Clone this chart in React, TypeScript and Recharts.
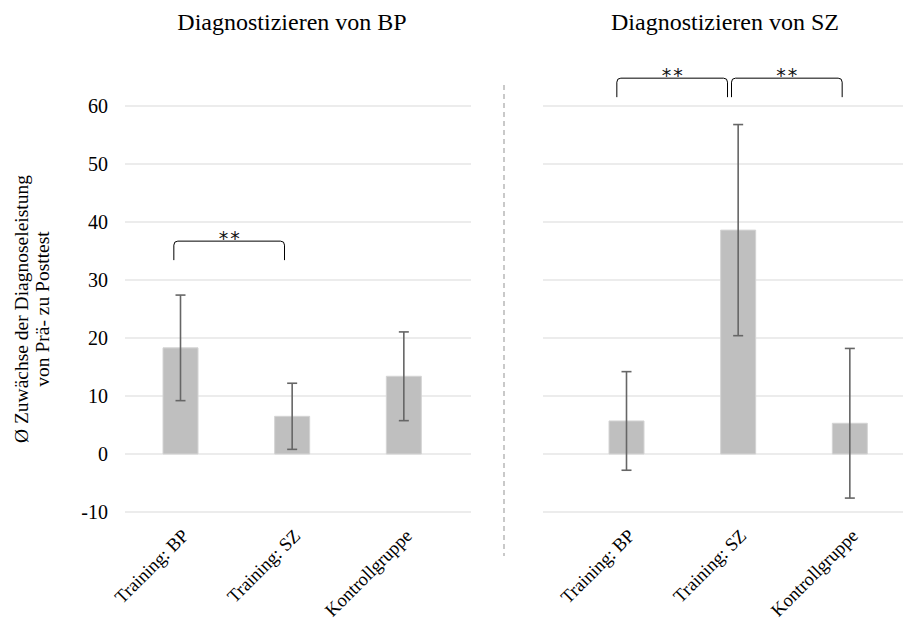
import React from 'react';
import { BarChart, Bar, XAxis, YAxis, CartesianGrid, ErrorBar, ReferenceLine } from 'recharts';

const groups = ['Training: BP', 'Training: SZ', 'Kontrollgruppe'];
const bpMeans = [18.3, 6.5, 13.4];
const bpErrors = [9.1, 5.7, 7.65];
const szMeans = [5.7, 38.6, 5.3];
const szErrors = [8.5, 18.2, 12.9];
const yTicks = [-10, 0, 10, 20, 30, 40, 50, 60];
const panelTitles = ['Diagnostizieren von BP', 'Diagnostizieren von SZ'];
const yLabelLines = ['Ø Zuwächse der Diagnoseleistung', 'von Prä- zu Posttest'];

const bpData = groups.map((g, i) => ({ group: g, mean: bpMeans[i], err: bpErrors[i] }));
const szData = groups.map((g, i) => ({ group: g, mean: szMeans[i], err: szErrors[i] }));

const FONT = '"Liberation Serif", "Times New Roman", serif';

const RotTick = (props: any) => {
  const { x, y, payload } = props;
  const ax = x + 9;
  const ay = y + 17;
  return (
    <text x={ax} y={ay} textAnchor="end" fontFamily={FONT} fontSize={18.5} fill="#000"
      transform={`rotate(-45, ${ax}, ${ay})`}>
      {payload.value}
    </text>
  );
};

const makeBracket = (dA: number, dB: number) => (props: any) => {
  const { x1, y1, x2 } = props;
  const a = x1 + dA;
  const b = x2 + dB;
  const top = y1;
  const leg = 19;
  const r = 4;
  const d = `M${a},${top + leg} L${a},${top + r} Q${a},${top} ${a + r},${top} L${b - r},${top} Q${b},${top} ${b},${top + r} L${b},${top + leg}`;
  return (
    <g>
      <path d={d} fill="none" stroke="#000" strokeWidth={1} />
      <text x={(a + b) / 2 + 1} y={top + 4} textAnchor="middle" fontFamily='"DejaVu Sans", sans-serif'
        fontSize={19} letterSpacing={2} fill="#111">**</text>
    </g>
  );
};

export default function App() {
  return (
    <div style={{ position: 'absolute', left: 0, top: 0, width: 903, height: 624, background: '#fff', fontFamily: FONT }}>
      <div style={{ position: 'absolute', left: 0, top: 0 }}>
        <BarChart width={480} height={624} data={bpData} margin={{ top: 106, right: 9, left: 0, bottom: 0 }}>
          <CartesianGrid vertical={false} stroke="#d9d9d9" strokeWidth={1.2} />
          <XAxis dataKey="group" axisLine={false} tickLine={false} height={112} interval={0}
            padding={{ left: 0, right: 11 }} tick={<RotTick />} />
          <YAxis width={125} domain={[-10, 60]} ticks={yTicks} axisLine={false} tickLine={false}
            tickMargin={11} tick={{ fontSize: 20, fill: '#000', fontFamily: FONT }} />
          <Bar dataKey="mean" fill="#bfbfbf" stroke="#d4d4d4" strokeWidth={1} barSize={35} isAnimationActive={false}>
            <ErrorBar dataKey="err" width={5} stroke="#666" strokeWidth={1.6} />
          </Bar>
          <ReferenceLine segment={[{ x: groups[0], y: 36.7 }, { x: groups[1], y: 36.7 }]} ifOverflow="visible"
            shape={makeBracket(-7, -8)} />
        </BarChart>
      </div>
      <div style={{ position: 'absolute', left: 480, top: 0 }}>
        <BarChart width={423} height={624} data={szData} margin={{ top: 106, right: 0, left: 63, bottom: 0 }}>
          <CartesianGrid vertical={false} stroke="#d9d9d9" strokeWidth={1.2} />
          <XAxis dataKey="group" axisLine={false} tickLine={false} height={112} interval={0}
            padding={{ left: 28, right: -3 }} tick={<RotTick />} />
          <YAxis hide domain={[-10, 60]} ticks={yTicks} />
          <Bar dataKey="mean" fill="#bfbfbf" stroke="#d4d4d4" strokeWidth={1} barSize={35} isAnimationActive={false}>
            <ErrorBar dataKey="err" width={5} stroke="#666" strokeWidth={1.6} />
          </Bar>
          <ReferenceLine segment={[{ x: groups[0], y: 64.8 }, { x: groups[1], y: 64.8 }]} ifOverflow="visible"
            shape={makeBracket(-10, -11)} />
          <ReferenceLine segment={[{ x: groups[1], y: 64.8 }, { x: groups[2], y: 64.8 }]} ifOverflow="visible"
            shape={makeBracket(-7, -8)} />
        </BarChart>
      </div>
      <svg width={903} height={624} style={{ position: 'absolute', left: 0, top: 0, pointerEvents: 'none' }}>
        <text x={292} y={30} textAnchor="middle" fontFamily={FONT} fontSize={24} fill="#000">{panelTitles[0]}</text>
        <text x={725} y={30} textAnchor="middle" fontFamily={FONT} fontSize={24} fill="#000">{panelTitles[1]}</text>
        <text x={28} y={309} textAnchor="middle" fontFamily={FONT} fontSize={19.5} fill="#000"
          transform="rotate(-90, 28, 309)">{yLabelLines[0]}</text>
        <text x={49} y={309} textAnchor="middle" fontFamily={FONT} fontSize={19.5} fill="#000"
          transform="rotate(-90, 49, 309)">{yLabelLines[1]}</text>
        <line x1={504} y1={85} x2={504} y2={556} stroke="#a6a6a6" strokeWidth={1.2} strokeDasharray="5 4" />
      </svg>
    </div>
  );
}
